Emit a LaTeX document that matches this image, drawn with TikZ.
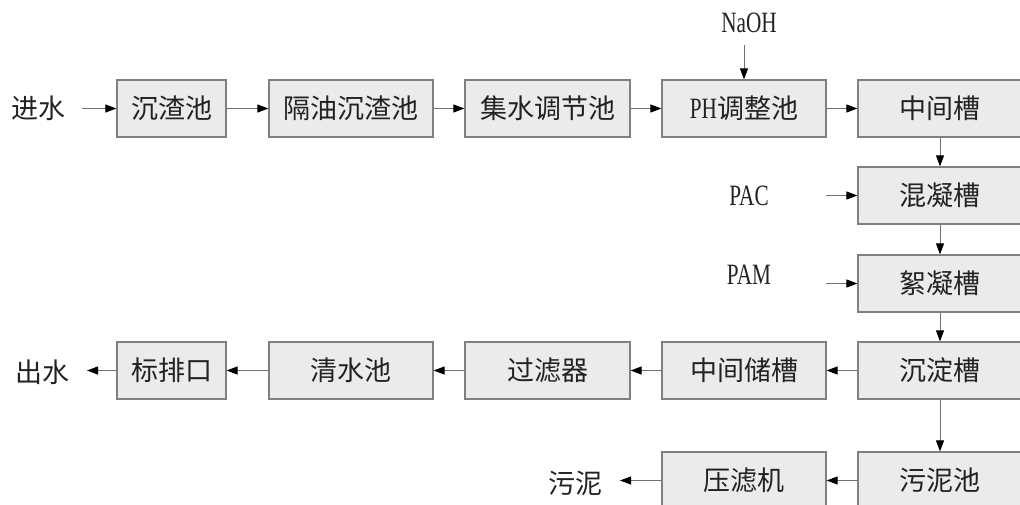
\documentclass[tikz,border=0pt]{standalone}
\usepackage{graphicx}
\usepackage{fontspec}
\setmainfont{Liberation Serif}
\newfontfamily\cjk{Noto Sans CJK SC}
\usetikzlibrary{arrows.meta}
\definecolor{boxedge}{HTML}{808080}
\definecolor{boxfill}{HTML}{EBEBEB}
\definecolor{linec}{HTML}{707070}
\definecolor{txt}{HTML}{222222}
\newcommand\lat[1]{\scalebox{0.72}[1]{\fontsize{29.5}{29.5}\rmfamily\selectfont #1}}
\begin{document}
\begin{tikzpicture}[x=1pt,y=-1pt,
  box/.style={draw=boxedge, fill=boxfill, line width=1.2pt, minimum height=57pt,
    inner sep=0pt, font=\fontsize{27}{27}\selectfont\cjk, text=txt},
  lbl/.style={inner sep=0pt, font=\fontsize{27}{27}\selectfont\cjk, text=txt},
  flow/.style={draw=linec, line width=1pt, -{Triangle[length=11pt,width=8pt,color=black]}}]
\useasboundingbox (0,0) rectangle (1020,505);
% row 1
\node[box, minimum width=109pt] (b1) at (171.5,108.5) {沉渣池};
\node[box, minimum width=164pt] (b2) at (351,108.5) {隔油沉渣池};
\node[box, minimum width=165pt] (b3) at (547.5,108.5) {集水调节池};
\node[box, minimum width=164pt] (b4) at (744,108.5) {\lat{PH}调整池};
\node[box, minimum width=164pt] (b5) at (940,108.5) {中间槽};
% right column
\node[box, minimum width=164pt] (b6) at (940,195.5) {混凝槽};
\node[box, minimum width=164pt] (b7) at (940,283.5) {絮凝槽};
\node[box, minimum width=164pt] (b8) at (940,370.5) {沉淀槽};
\node[box, minimum width=164pt] (b9) at (940,480.5) {污泥池};
% row 3
\node[box, minimum width=164pt] (c4) at (744,370.5) {中间储槽};
\node[box, minimum width=165pt] (c3) at (547.5,370.5) {过滤器};
\node[box, minimum width=164pt] (c2) at (351,370.5) {清水池};
\node[box, minimum width=109pt] (c1) at (171.5,370.5) {标排口};
% row 4
\node[box, minimum width=164pt] (d1) at (744,480.5) {压滤机};
% labels
\node[lbl] (in) at (38,108) {进水};
\node[lbl] (out) at (43,372) {出水};
\node[lbl] (sludge) at (575,483) {污泥};
\node[lbl] (naoh) at (749,23) {\lat{NaOH}};
\node[lbl] (pac) at (749,196) {\lat{PAC}};
\node[lbl] (pam) at (749,275) {\lat{PAM}};
\coordinate (inE) at (82,108.5);
\coordinate (outE) at (87,370.5);
\coordinate (slE) at (620,480.5);
\coordinate (naohS) at (744,45);
\coordinate (pacE) at (826,195.5);
\coordinate (pamE) at (826,283.5);
% connectors
\draw[flow] (inE) -- (b1.west);
\draw[flow] (b1) -- (b2);
\draw[flow] (b2) -- (b3);
\draw[flow] (b3) -- (b4);
\draw[flow] (b4) -- (b5);
\draw[flow] (naohS) -- (b4.north);
\draw[flow] (b5) -- (b6);
\draw[flow] (pacE) -- (b6.west);
\draw[flow] (b6) -- (b7);
\draw[flow] (pamE) -- (b7.west);
\draw[flow] (b7) -- (b8);
\draw[flow] (b8) -- (c4);
\draw[flow] (c4) -- (c3);
\draw[flow] (c3) -- (c2);
\draw[flow] (c2) -- (c1);
\draw[flow] (c1.west) -- (outE);
\draw[flow] (b8) -- (b9);
\draw[flow] (b9) -- (d1);
\draw[flow] (d1.west) -- (slE);
\end{tikzpicture}
\end{document}
